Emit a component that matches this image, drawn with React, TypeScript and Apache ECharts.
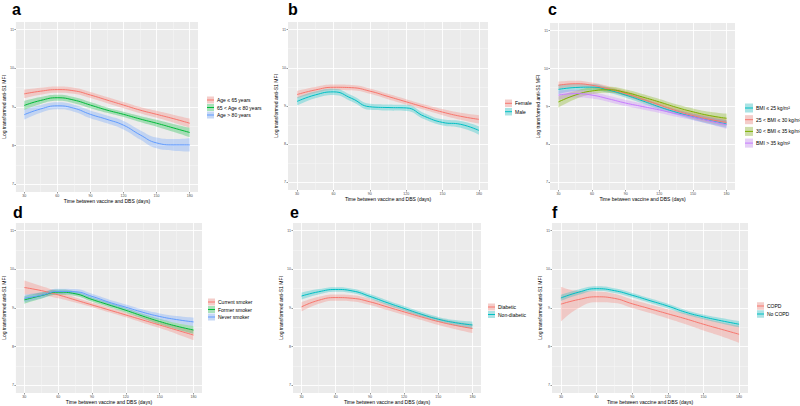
import React, { useEffect, useRef } from 'react';
import * as echarts from 'echarts';

// ---------- data ----------
const DAYS = [30, 45, 60, 75, 90, 105, 120, 135, 150, 165, 180];
const X_TICKS = [30, 60, 90, 120, 150, 180];
const X_MINOR = [45, 75, 105, 135, 165];
const Y_TICKS = [7, 8, 9, 10, 11];
const Y_MINOR = [7.5, 8.5, 9.5, 10.5];

// panel a: age
const AGE_LE65 = [9.34, 9.41, 9.45, 9.42, 9.31, 9.18, 9.05, 8.92, 8.81, 8.70, 8.58];
const AGE_LE65_HW = [0.11, 0.09, 0.08, 0.08, 0.08, 0.08, 0.08, 0.08, 0.09, 0.10, 0.12];
const AGE_65_80 = [9.04, 9.17, 9.24, 9.18, 9.05, 8.92, 8.81, 8.69, 8.58, 8.46, 8.34];
const AGE_65_80_HW = [0.12, 0.09, 0.08, 0.08, 0.08, 0.07, 0.07, 0.08, 0.09, 0.10, 0.12];
const AGE_GT80 = [8.80, 8.95, 9.03, 8.97, 8.81, 8.68, 8.53, 8.28, 8.07, 8.02, 8.02];
const AGE_GT80_HW = [0.13, 0.10, 0.09, 0.09, 0.10, 0.10, 0.11, 0.12, 0.14, 0.15, 0.17];

// panel b: sex
const FEMALE = [9.30, 9.42, 9.49, 9.48, 9.39, 9.25, 9.11, 8.97, 8.84, 8.73, 8.65];
const FEMALE_HW = [0.10, 0.08, 0.07, 0.07, 0.07, 0.07, 0.07, 0.07, 0.08, 0.09, 0.11];
const MALE = [9.12, 9.29, 9.37, 9.20, 8.98, 8.96, 8.95, 8.73, 8.57, 8.52, 8.36];
const MALE_HW = [0.11, 0.09, 0.08, 0.08, 0.08, 0.08, 0.08, 0.08, 0.08, 0.09, 0.11];

// panel c: BMI
const BMI_LE25 = [9.45, 9.50, 9.51, 9.43, 9.30, 9.15, 8.99, 8.85, 8.73, 8.63, 8.54];
const BMI_LE25_HW = [0.12, 0.09, 0.08, 0.07, 0.07, 0.07, 0.07, 0.07, 0.08, 0.09, 0.10];
const BMI_25_30 = [9.56, 9.60, 9.56, 9.46, 9.34, 9.19, 9.04, 8.89, 8.76, 8.66, 8.58];
const BMI_25_30_HW = [0.10, 0.08, 0.07, 0.07, 0.07, 0.07, 0.07, 0.07, 0.08, 0.09, 0.10];
const BMI_30_35 = [9.12, 9.30, 9.41, 9.44, 9.37, 9.25, 9.12, 8.98, 8.86, 8.76, 8.69];
const BMI_30_35_HW = [0.15, 0.11, 0.09, 0.08, 0.08, 0.08, 0.08, 0.08, 0.09, 0.10, 0.12];
const BMI_GT35 = [9.30, 9.34, 9.30, 9.20, 9.09, 9.00, 8.91, 8.81, 8.72, 8.62, 8.52];
const BMI_GT35_HW = [0.12, 0.10, 0.09, 0.08, 0.08, 0.08, 0.08, 0.08, 0.08, 0.09, 0.11];

// panel d: smoking
const CURRENT = [9.53, 9.45, 9.34, 9.21, 9.08, 8.95, 8.82, 8.69, 8.56, 8.43, 8.30];
const CURRENT_HW = [0.18, 0.12, 0.09, 0.07, 0.06, 0.06, 0.06, 0.07, 0.08, 0.10, 0.13];
const FORMER = [9.21, 9.32, 9.41, 9.37, 9.22, 9.08, 8.94, 8.79, 8.65, 8.53, 8.43];
const FORMER_HW = [0.10, 0.08, 0.07, 0.06, 0.06, 0.06, 0.06, 0.06, 0.07, 0.08, 0.10];
const NEVER = [9.25, 9.33, 9.43, 9.42, 9.30, 9.15, 9.02, 8.89, 8.78, 8.70, 8.64];
const NEVER_HW = [0.10, 0.08, 0.07, 0.07, 0.07, 0.07, 0.07, 0.07, 0.08, 0.09, 0.11];

// panel e: diabetes
const DIABETIC = [9.03, 9.20, 9.27, 9.25, 9.16, 9.03, 8.90, 8.77, 8.65, 8.55, 8.47];
const DIABETIC_HW = [0.12, 0.09, 0.08, 0.08, 0.08, 0.08, 0.08, 0.08, 0.09, 0.10, 0.12];
const NONDIAB = [9.31, 9.42, 9.48, 9.44, 9.30, 9.14, 8.99, 8.84, 8.71, 8.62, 8.56];
const NONDIAB_HW = [0.09, 0.07, 0.06, 0.06, 0.06, 0.06, 0.06, 0.06, 0.06, 0.07, 0.09];

// panel f: COPD
const COPD = [9.10, 9.22, 9.29, 9.25, 9.11, 8.98, 8.85, 8.72, 8.58, 8.45, 8.32];
const COPD_HW = [0.45, 0.22, 0.14, 0.12, 0.11, 0.11, 0.12, 0.14, 0.16, 0.18, 0.22];
const NOCOPD = [9.26, 9.41, 9.50, 9.45, 9.33, 9.19, 9.05, 8.89, 8.77, 8.67, 8.58];
const NOCOPD_HW = [0.08, 0.07, 0.06, 0.06, 0.06, 0.06, 0.06, 0.06, 0.06, 0.07, 0.08];

// ---------- styles / layout ----------
const RED = '#F8766D';
const GREEN = '#00BA38';
const BLUE = '#619CFF';
const CYAN = '#00BFC4';
const OLIVE = '#7CAE00';
const PURPLE = '#C77CFF';
const FONT = '"Liberation Sans", Arial, Helvetica, sans-serif';

const X_TITLE = 'Time between vaccine and DBS (days)';
const Y_TITLE = 'Log transformed anti-S1 MFI';

type Group = { name: string; color: string; mean: number[]; hw: number[] };
type Panel = {
  label: string;
  labelPos: [number, number];
  grid: { left: number; top: number; width: number; height: number };
  legend: { x: number; y: number; step: number; w: number; h: number };
  groups: Group[];
};

const PANELS: Panel[] = [
  {
    label: 'a', labelPos: [12, 1.5],
    grid: { left: 13, top: 22, width: 185, height: 170 },
    legend: { x: 207, y: 100, step: 7.5, w: 7, h: 7 },
    groups: [
      { name: 'Age ≤ 65 years', color: RED, mean: AGE_LE65, hw: AGE_LE65_HW },
      { name: '65 < Age ≤ 80 years', color: GREEN, mean: AGE_65_80, hw: AGE_65_80_HW },
      { name: 'Age > 80 years', color: BLUE, mean: AGE_GT80, hw: AGE_GT80_HW },
    ],
  },
  {
    label: 'b', labelPos: [288, 1.5],
    grid: { left: 288, top: 22, width: 200, height: 168 },
    legend: { x: 505, y: 103.3, step: 8.4, w: 7, h: 7.5 },
    groups: [
      { name: 'Female', color: RED, mean: FEMALE, hw: FEMALE_HW },
      { name: 'Male', color: CYAN, mean: MALE, hw: MALE_HW },
    ],
  },
  {
    label: 'c', labelPos: [548, 1.5],
    grid: { left: 550, top: 23, width: 185, height: 167 },
    legend: { x: 745, y: 108, step: 11.7, w: 8, h: 9 },
    groups: [
      { name: 'BMI ≤ 25 kg/m²', color: CYAN, mean: BMI_LE25, hw: BMI_LE25_HW },
      { name: '25 < BMI ≤ 30 kg/m²', color: RED, mean: BMI_25_30, hw: BMI_25_30_HW },
      { name: '30 < BMI ≤ 35 kg/m²', color: OLIVE, mean: BMI_30_35, hw: BMI_30_35_HW },
      { name: 'BMI > 35 kg/m²', color: PURPLE, mean: BMI_GT35, hw: BMI_GT35_HW },
    ],
  },
  {
    label: 'd', labelPos: [13, 204.5],
    grid: { left: 15, top: 223, width: 187, height: 170 },
    legend: { x: 208, y: 302, step: 7.5, w: 7, h: 7 },
    groups: [
      { name: 'Current smoker', color: RED, mean: CURRENT, hw: CURRENT_HW },
      { name: 'Former smoker', color: GREEN, mean: FORMER, hw: FORMER_HW },
      { name: 'Never smoker', color: BLUE, mean: NEVER, hw: NEVER_HW },
    ],
  },
  {
    label: 'e', labelPos: [290, 204.5],
    grid: { left: 293, top: 223, width: 188, height: 170 },
    legend: { x: 488, y: 307, step: 7.5, w: 7, h: 7 },
    groups: [
      { name: 'Diabetic', color: RED, mean: DIABETIC, hw: DIABETIC_HW },
      { name: 'Non-diabetic', color: CYAN, mean: NONDIAB, hw: NONDIAB_HW },
    ],
  },
  {
    label: 'f', labelPos: [552, 204.5],
    grid: { left: 552, top: 223, width: 196, height: 170 },
    legend: { x: 757, y: 306, step: 8, w: 7, h: 7.5 },
    groups: [
      { name: 'COPD', color: RED, mean: COPD, hw: COPD_HW },
      { name: 'No COPD', color: CYAN, mean: NOCOPD, hw: NOCOPD_HW },
    ],
  },
];

const SMOOTH = 0.5;

function buildOption() {
  const grid: any[] = [];
  const xAxis: any[] = [];
  const yAxis: any[] = [];
  const bands: any[] = [];
  const lines: any[] = [];
  const graphic: any[] = [];

  PANELS.forEach((p, i) => {
    grid.push({
      ...p.grid,
      show: true,
      backgroundColor: '#EBEBEB',
      borderWidth: 0,
      containLabel: false,
    });
    const xMain = {
      type: 'value', gridIndex: i, min: 22.5, max: 187.5, position: 'bottom',
      name: X_TITLE, nameLocation: 'middle', nameGap: 6,
      nameTextStyle: { fontSize: 5, color: '#000', fontFamily: FONT },
      axisLine: { show: false },
      axisTick: { show: true, length: 1.5, lineStyle: { color: '#333', width: 0.5 }, customValues: X_TICKS },
      axisLabel: { fontSize: 3.6, color: '#4D4D4D', margin: 2, fontFamily: FONT, customValues: X_TICKS },
      splitLine: { show: true, lineStyle: { color: '#FFFFFF', width: 0.9 } },
    };
    const xMinor = {
      type: 'value', gridIndex: i, min: 22.5, max: 187.5, position: 'bottom',
      axisLine: { show: false },
      axisTick: { show: false, customValues: X_MINOR },
      axisLabel: { show: false, customValues: X_MINOR },
      splitLine: { show: true, lineStyle: { color: '#F6F6F6', width: 0.5 } },
    };
    const yMain = {
      type: 'value', gridIndex: i, min: 6.8, max: 11.2, position: 'left',
      name: Y_TITLE, nameLocation: 'middle', nameGap: 7,
      nameTextStyle: { fontSize: 5, color: '#000', fontFamily: FONT },
      axisLine: { show: false },
      axisTick: { show: true, length: 1.5, lineStyle: { color: '#333', width: 0.5 }, customValues: Y_TICKS },
      axisLabel: { fontSize: 3.6, color: '#4D4D4D', margin: 2, fontFamily: FONT, customValues: Y_TICKS },
      splitLine: { show: true, lineStyle: { color: '#FFFFFF', width: 0.9 } },
    };
    const yMinor = {
      type: 'value', gridIndex: i, min: 6.8, max: 11.2, position: 'left',
      axisLine: { show: false },
      axisTick: { show: false, customValues: Y_MINOR },
      axisLabel: { show: false, customValues: Y_MINOR },
      splitLine: { show: true, lineStyle: { color: '#F6F6F6', width: 0.5 } },
    };
    xAxis.push(xMinor, xMain);
    yAxis.push(yMinor, yMain);
    const xi = 2 * i + 1;
    const yi = 2 * i + 1;

    p.groups.forEach((g, j) => {
      const stack = `p${i}g${j}`;
      // value first, day second, so that the stacked dimension is the y value
      bands.push({
        type: 'line', xAxisIndex: xi, yAxisIndex: yi, stack, silent: true,
        encode: { x: 1, y: 0 },
        symbol: 'none', smooth: SMOOTH,
        lineStyle: { width: 0, opacity: 0 },
        data: DAYS.map((d, k) => [g.mean[k] - g.hw[k], d]),
      });
      bands.push({
        type: 'line', xAxisIndex: xi, yAxisIndex: yi, stack, silent: true,
        encode: { x: 1, y: 0 },
        symbol: 'none', smooth: SMOOTH,
        lineStyle: { width: 0, opacity: 0 },
        areaStyle: { color: g.color, opacity: 0.3 },
        data: DAYS.map((d, k) => [2 * g.hw[k], d]),
      });
      lines.push({
        type: 'line', name: g.name, xAxisIndex: xi, yAxisIndex: yi, silent: true,
        symbol: 'none', smooth: SMOOTH,
        lineStyle: { color: g.color, width: 1 },
        data: DAYS.map((d, k) => [d, g.mean[k]]),
        z: 3,
      });

      // legend key
      const L = p.legend;
      const cy = L.y + j * L.step;
      graphic.push({
        type: 'rect', silent: true,
        shape: { x: L.x, y: cy - L.h / 2, width: L.w, height: L.h },
        style: { fill: '#F2F2F2' },
      });
      graphic.push({
        type: 'rect', silent: true,
        shape: { x: L.x, y: cy - L.h / 2, width: L.w, height: L.h },
        style: { fill: g.color, opacity: 0.3 },
      });
      graphic.push({
        type: 'line', silent: true,
        shape: { x1: L.x, y1: cy, x2: L.x + L.w, y2: cy },
        style: { stroke: g.color, lineWidth: 1 },
      });
      graphic.push({
        type: 'text', silent: true,
        style: {
          x: L.x + L.w + 3, y: cy, text: g.name, fill: '#000',
          font: `5px ${FONT}`, verticalAlign: 'middle', align: 'left',
        },
      });
    });

    graphic.push({
      type: 'text', silent: true,
      style: {
        x: p.labelPos[0], y: p.labelPos[1], text: p.label, fill: '#000',
        font: `bold 16px ${FONT}`, verticalAlign: 'top', align: 'left',
      },
    });
  });

  return {
    animation: false,
    backgroundColor: '#FFFFFF',
    grid,
    xAxis,
    yAxis,
    series: [...bands, ...lines],
    graphic,
  };
}

export default function App() {
  const ref = useRef<HTMLDivElement>(null);
  useEffect(() => {
    if (!ref.current) return;
    const chart = echarts.init(ref.current, undefined, { renderer: 'svg' });
    chart.setOption(buildOption() as any);
    return () => chart.dispose();
  }, []);
  return (
    <div
      ref={ref}
      style={{ position: 'fixed', left: 0, top: 0, width: 800, height: 406, background: '#fff' }}
    />
  );
}
